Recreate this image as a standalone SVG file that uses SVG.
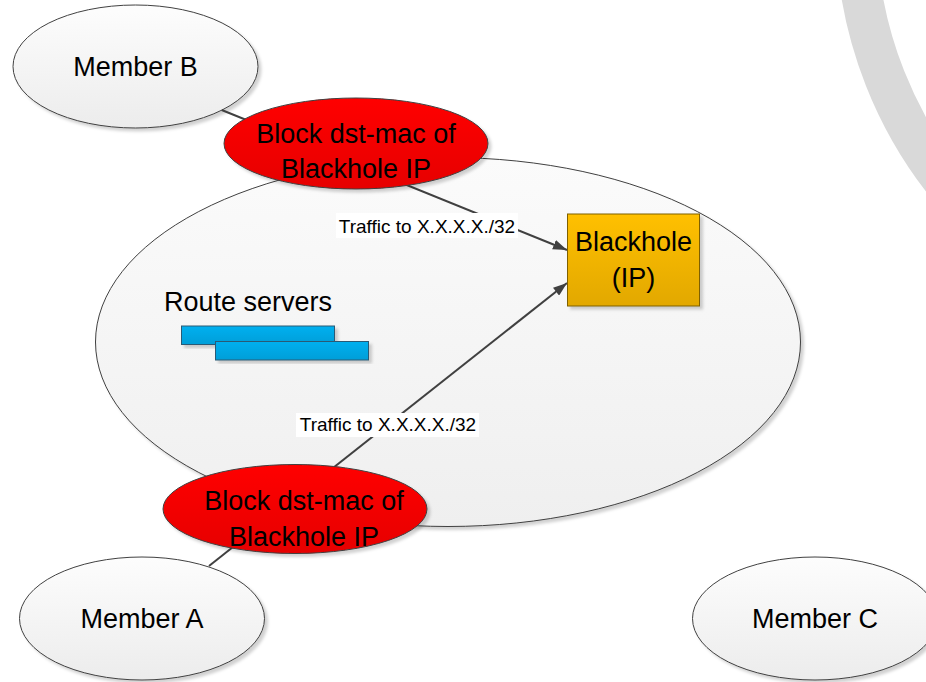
<svg xmlns="http://www.w3.org/2000/svg" width="926" height="682" viewBox="0 0 926 682">
<defs>
<linearGradient id="gMember" x1="0" y1="0" x2="0" y2="1"><stop offset="0" stop-color="#fdfdfd"/><stop offset="1" stop-color="#ececec"/></linearGradient>
<linearGradient id="gBig" x1="0" y1="0" x2="0" y2="1"><stop offset="0" stop-color="#fbfbfb"/><stop offset="1" stop-color="#efefef"/></linearGradient>
<linearGradient id="gRed" x1="0" y1="0" x2="0" y2="1"><stop offset="0" stop-color="#ff0000"/><stop offset="1" stop-color="#e60000"/></linearGradient>
<linearGradient id="gGold" x1="0" y1="0" x2="0" y2="1"><stop offset="0" stop-color="#ffc000"/><stop offset="1" stop-color="#e2a800"/></linearGradient>
<linearGradient id="gBlue" x1="0" y1="0" x2="0" y2="1"><stop offset="0" stop-color="#00b0f0"/><stop offset="1" stop-color="#009ed8"/></linearGradient>
<filter id="sh" x="-10%" y="-10%" width="125%" height="130%"><feDropShadow dx="3" dy="3" stdDeviation="1.5" flood-color="#000" flood-opacity="0.18"/></filter>
<marker id="arr" viewBox="0 0 14 10" refX="14" refY="5" markerWidth="14" markerHeight="10" markerUnits="userSpaceOnUse" orient="auto"><path d="M0,0 L14,5 L0,10 Z" fill="#404040"/></marker>
<style>
.big{font-family:"Liberation Sans",Arial,sans-serif;font-size:27px;fill:#000;}
.lbl{font-family:"Liberation Sans",Arial,sans-serif;font-size:19px;fill:#000;}
.member{fill:url(#gMember);stroke:#404040;stroke-width:1;filter:url(#sh);}
.red{fill:url(#gRed);stroke:#404040;stroke-width:1;filter:url(#sh);}
.conn{stroke:#404040;stroke-width:2;fill:none;}
</style>
</defs>
<rect width="926" height="682" fill="#ffffff"/>
<g id="arc-decoration"><circle cx="1270" cy="-74" r="414" fill="none" stroke="#d9d9d9" stroke-width="41"/></g>
<g id="ixp-network"><ellipse cx="448" cy="342" rx="352.5" ry="184.5" fill="url(#gBig)" stroke="#404040" stroke-width="1" filter="url(#sh)"/></g>
<g id="route-servers">
<text class="big" x="164" y="311">Route servers</text>
<rect x="181.5" y="326" width="153" height="18.5" fill="url(#gBlue)" stroke="#2b5a74" stroke-width="1" filter="url(#sh)"/>
<rect x="215.5" y="341.5" width="153" height="18.5" fill="url(#gBlue)" stroke="#2b5a74" stroke-width="1" filter="url(#sh)"/>
</g>
<g id="member-b"><ellipse class="member" cx="135.5" cy="66.5" rx="122.5" ry="61.5"/><text class="big" x="135.5" y="76" text-anchor="middle">Member B</text></g>
<g id="member-a"><ellipse class="member" cx="142" cy="618.5" rx="122.5" ry="61.5"/><text class="big" x="142" y="628" text-anchor="middle">Member A</text></g>
<g id="member-c"><ellipse class="member" cx="815" cy="618.5" rx="122.5" ry="61.5"/><text class="big" x="815" y="628" text-anchor="middle">Member C</text></g>
<g id="connectors">
<line class="conn" x1="221.7" y1="110" x2="567" y2="250" marker-end="url(#arr)"/>
<line class="conn" x1="209" y1="566" x2="567" y2="283" marker-end="url(#arr)"/>
<g id="label-1"><rect x="336" y="213" width="182" height="25" fill="#ffffff"/><text class="lbl" x="427" y="233" text-anchor="middle">Traffic to X.X.X.X./32</text></g>
<g id="label-2"><rect x="296" y="413" width="183" height="24" fill="#ffffff"/><text class="lbl" x="388" y="431" text-anchor="middle">Traffic to X.X.X.X./32</text></g>
</g>
<g id="block-top"><ellipse class="red" cx="356" cy="143.5" rx="132" ry="45.5"/><text class="big" x="356" y="143" text-anchor="middle">Block dst-mac of</text><text class="big" x="356" y="178" text-anchor="middle">Blackhole IP</text></g>
<g id="block-bottom"><ellipse class="red" cx="295" cy="509" rx="132" ry="44.5"/><text class="big" x="304" y="510" text-anchor="middle">Block dst-mac of</text><text class="big" x="304" y="546" text-anchor="middle">Blackhole IP</text></g>
<g id="blackhole"><rect x="567.5" y="214" width="132" height="92" fill="url(#gGold)" stroke="#7f6000" stroke-width="1" filter="url(#sh)"/><text class="big" x="633.5" y="251" text-anchor="middle">Blackhole</text><text class="big" x="633.5" y="287" text-anchor="middle">(IP)</text></g>
</svg>
